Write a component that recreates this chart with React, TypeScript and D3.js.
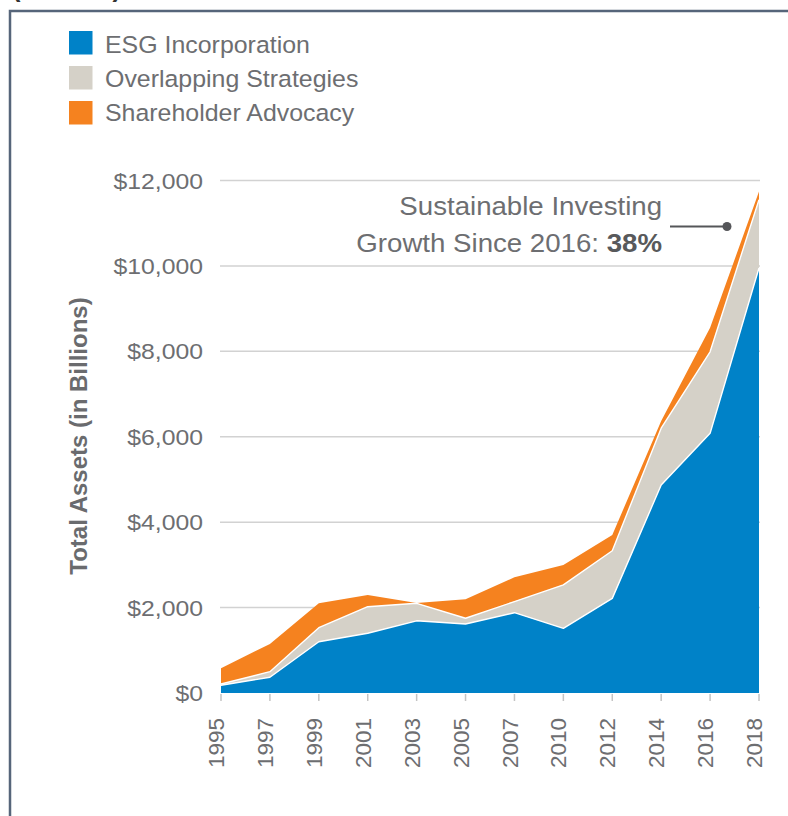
import React from "react";
import * as d3 from "d3";

const years = ["1995", "1997", "1999", "2001", "2003", "2005", "2007", "2010", "2012", "2014", "2016", "2018"];
const esgIncorporation = [180, 370, 1200, 1400, 1690, 1615, 1880, 1515, 2215, 4870, 6080, 9950];
const overlappingStrategies = [30, 130, 330, 620, 410, 135, 260, 1015, 1115, 1330, 1910, 1600];
const shareholderAdvocacy = [370, 650, 570, 275, 5, 445, 570, 470, 370, 170, 560, 190];
const yTicks = [0, 2000, 4000, 6000, 8000, 10000, 12000];
const seriesNames = ["ESG Incorporation", "Overlapping Strategies", "Shareholder Advocacy"];
const seriesColors = ["#0082c8", "#d5d1c8", "#f5821f"];

const FONT = "'Liberation Sans', Arial, Helvetica, sans-serif";
const TXT = "#6d6e71";

export default function App() {
  const W = 788, H = 816;
  const x = d3.scalePoint<string>().domain(years).range([221, 759]);
  const y = d3.scaleLinear().domain([0, 12000]).range([693, 180.5]);

  const rows = years.map((yr, i) => ({
    year: yr,
    esg: esgIncorporation[i],
    overlap: overlappingStrategies[i],
    advocacy: shareholderAdvocacy[i],
  }));
  const stack = d3.stack<any>().keys(["esg", "overlap", "advocacy"]);
  const layers = stack(rows);

  const area = d3
    .area<any>()
    .x((d: any) => x(d.data.year) as number)
    .y0((d: any) => y(d[0]))
    .y1((d: any) => y(d[1]));
  const topLine = d3
    .line<any>()
    .x((d: any) => x(d.data.year) as number)
    .y((d: any) => y(d[1]));

  const fmt = (v: number) => "$" + d3.format(",")(v);

  return (
    <svg width={W} height={H} style={{ position: "absolute", left: 0, top: 0, background: "#fff" }} fontFamily={FONT}>
      <rect x={0} y={0} width={W} height={H} fill="#fff" />
      {/* cut-off heading */}
      <text x={12} y={-3.5} fontSize={25.5} fontWeight="bold" fill="#333">(Billions)</text>
      {/* frame */}
      <rect x={10} y={11} width={W + 20} height={H + 20} fill="none" stroke="#56657a" strokeWidth={2.5} />

      {/* legend */}
      {seriesNames.map((n, i) => (
        <g key={n}>
          <rect x={69} y={31 + i * 35} width={23.5} height={23.5} fill={seriesColors[i]} />
          <text transform={`translate(105,${53 + i * 34}) scale(1.07,1)`} fontSize={23.3} fill={TXT}>{n}</text>
        </g>
      ))}

      {/* gridlines */}
      {yTicks.filter((t) => t > 0).map((t) => (
        <line key={t} x1={220} x2={760} y1={y(t)} y2={y(t)} stroke="#d2d2d2" strokeWidth={1.5} />
      ))}
      {/* y labels */}
      {yTicks.map((t) => (
        <text key={t} transform={`translate(203,${y(t)}) scale(1.1,1)`} dy="0.36em" textAnchor="end" fontSize={22.5} fill={TXT}>
          {fmt(t)}
        </text>
      ))}
      <text transform={`translate(87,436) rotate(-90)`} textAnchor="middle" fontSize={24} fontWeight="bold" fill="#6a6b6e">
        Total Assets (in Billions)
      </text>

      {/* areas */}
      {layers.map((L, i) => (
        <path key={i} d={area(L as any) as string} fill={seriesColors[i]} />
      ))}
      {layers.slice(0, 2).map((L, i) => (
        <path key={"l" + i} d={topLine(L as any) as string} fill="none" stroke="#fff" strokeWidth={1.4} strokeLinejoin="round" />
      ))}

      {/* x ticks */}
      {years.map((yr) => (
        <line key={yr} x1={x(yr)} x2={x(yr)} y1={694} y2={701} stroke="#c4c4c4" strokeWidth={1.5} />
      ))}
      {years.map((yr) => (
        <text key={"t" + yr} transform={`translate(${(x(yr) as number) - 5},718) rotate(-90)`} dy="0.36em" textAnchor="end" fontSize={22.5} fill={TXT}>
          {yr}
        </text>
      ))}

      {/* annotation */}
      <text transform="translate(662,215) scale(1.08,1)" textAnchor="end" fontSize={25.6} fill={TXT}>Sustainable Investing</text>
      <text transform="translate(662,251.5) scale(1.08,1)" textAnchor="end" fontSize={25.6} fill={TXT}>
        Growth Since 2016: <tspan fontWeight="bold" fill="#58595b">38%</tspan>
      </text>
      <line x1={670} x2={727} y1={226.5} y2={226.5} stroke="#555659" strokeWidth={2} />
      <circle cx={727} cy={226.5} r={4.5} fill="#555659" />
    </svg>
  );
}
